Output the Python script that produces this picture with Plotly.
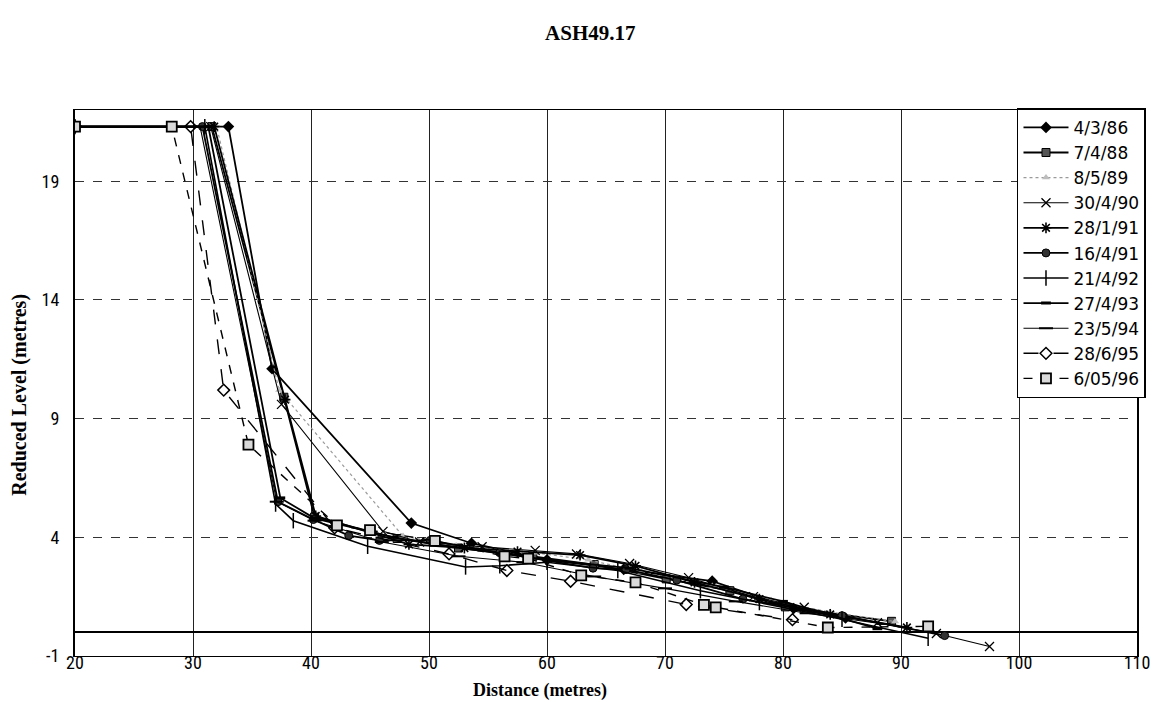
import plotly.graph_objects as go

# Beach profile survey ASH49.17: distance from benchmark vs reduced level
survey_dates = ["4/3/86", "7/4/88", "8/5/89", "30/4/90", "28/1/91", "16/4/91",
                "21/4/92", "27/4/93", "23/5/94", "28/6/95", "6/05/96"]

dist_860304 = [20, 33.0, 36.7, 48.5, 53.6, 60.0, 66.5, 74.0, 80.9, 85.3]
rl_860304 = [21.3, 21.3, 11.1, 4.6, 3.75, 3.05, 2.65, 2.15, 1.0, 0.6]

dist_880407 = [20, 31.6, 37.7, 40.3, 47.3, 52.5, 58.8, 64.0, 70.1, 75.5, 80.2, 89.2]
rl_880407 = [21.3, 21.3, 9.9, 4.85, 3.95, 3.55, 3.2, 2.85, 2.25, 1.75, 1.07, 0.46]

dist_890508 = [20, 32.0, 37.3, 47.8, 52.3, 59.0, 63.5, 68.0, 74.0, 79.0, 84.0, 89.5]
rl_890508 = [21.3, 21.3, 10.2, 4.05, 3.65, 3.35, 3.05, 2.55, 1.95, 1.35, 0.85, 0.45]

dist_900430 = [20, 31.5, 37.5, 46.1, 49.2, 54.5, 59.0, 62.5, 67.0, 72.0, 77.5, 81.8, 88.0, 93.0, 97.5]
rl_900430 = [21.3, 21.3, 9.6, 4.25, 3.8, 3.6, 3.45, 3.3, 2.9, 2.3, 1.5, 1.05, 0.4, -0.05, -0.6]

dist_910128 = [20, 31.8, 37.8, 40.4, 48.3, 53.0, 57.5, 62.8, 67.5, 72.5, 78.0, 84.0, 90.5]
rl_910128 = [21.3, 21.3, 9.8, 4.9, 3.7, 3.55, 3.4, 3.25, 2.8, 2.1, 1.4, 0.75, 0.2]

dist_910416 = [20, 30.8, 37.2, 40.2, 43.2, 45.8, 50.1, 56.0, 63.9, 66.7, 71.0, 76.6, 85.0, 93.7]
rl_910416 = [21.3, 21.3, 5.5, 4.75, 4.07, 3.87, 3.87, 3.35, 2.7, 2.64, 2.2, 1.4, 0.7, -0.14]

dist_920421 = [20, 31.0, 37.0, 38.5, 44.8, 53.1, 56.0, 60.0, 66.0, 73.0, 78.0, 85.0, 92.3]
rl_920421 = [21.3, 21.3, 5.4, 4.7, 3.62, 2.75, 2.8, 2.95, 2.6, 1.75, 1.25, 0.55, -0.25]

dist_930427 = [20, 31.3, 37.4, 40.3, 47.0, 52.0, 60.0, 67.0, 75.0, 80.0, 88.0]
rl_930427 = [21.3, 21.3, 5.66, 4.8, 4.0, 3.6, 3.05, 2.7, 1.9, 1.3, 0.15]

dist_940523 = [20, 30.6, 37.1, 40.3, 46.0, 52.5, 58.0, 64.0, 70.0, 76.0, 82.0, 88.5]
rl_940523 = [21.3, 21.3, 5.5, 4.7, 3.8, 3.2, 2.95, 2.35, 1.85, 1.3, 0.8, 0.35]

dist_950628 = [20, 29.8, 32.6, 42.0, 51.7, 56.6, 62.0, 71.8, 80.8]
rl_950628 = [21.3, 21.3, 10.2, 4.4, 3.3, 2.6, 2.15, 1.17, 0.53]

dist_960506 = [20, 28.2, 34.7, 42.2, 45.0, 50.5, 56.4, 58.4, 62.9, 67.5, 73.3, 74.3, 83.8, 92.3]
rl_960506 = [21.3, 21.3, 7.9, 4.5, 4.3, 3.85, 3.2, 3.1, 2.4, 2.1, 1.15, 1.05, 0.2, 0.25]

x_ticks = [20, 30, 40, 50, 60, 70, 80, 90, 100, 110]
y_ticks = [-1, 4, 9, 14, 19]

profiles = [
    (dist_860304, rl_860304),
    (dist_880407, rl_880407),
    (dist_890508, rl_890508),
    (dist_900430, rl_900430),
    (dist_910128, rl_910128),
    (dist_910416, rl_910416),
    (dist_920421, rl_920421),
    (dist_930427, rl_930427),
    (dist_940523, rl_940523),
    (dist_950628, rl_950628),
    (dist_960506, rl_960506),
]

# line / marker style per survey
styles = [
    dict(line=dict(color="black", width=1.8),
         marker=dict(symbol="diamond", size=9, color="black")),
    dict(line=dict(color="black", width=1.8),
         marker=dict(symbol="square", size=8, color="#555555",
                     line=dict(color="black", width=1))),
    dict(line=dict(color="#9a9a9a", width=1.2, dash="dot"),
         marker=dict(symbol="triangle-up", size=7, color="#bdbdbd")),
    dict(line=dict(color="black", width=1.1),
         marker=dict(symbol="x-thin-open", size=9, color="black",
                     line=dict(color="black", width=1.3))),
    dict(line=dict(color="black", width=1.8),
         marker=dict(symbol="asterisk-open", size=9, color="black",
                     line=dict(color="black", width=1.6))),
    dict(line=dict(color="black", width=1.8),
         marker=dict(symbol="circle", size=8, color="#333333",
                     line=dict(color="black", width=1))),
    dict(line=dict(color="black", width=1.6),
         marker=dict(symbol="line-ns-open", size=11, color="black",
                     line=dict(color="black", width=1.5))),
    dict(line=dict(color="black", width=1.8),
         marker=dict(symbol="line-ew-open", size=7, color="black",
                     line=dict(color="black", width=3))),
    dict(line=dict(color="black", width=1.1),
         marker=dict(symbol="line-ew-open", size=10, color="black",
                     line=dict(color="black", width=2))),
    dict(line=dict(color="black", width=1.4, dash="longdash"),
         marker=dict(symbol="diamond-open", size=9, color="black",
                     line=dict(color="black", width=1.5))),
    dict(line=dict(color="black", width=1.4, dash="dash"),
         marker=dict(symbol="square", size=10, color="#d9d9d9",
                     line=dict(color="black", width=1.8))),
]

fig = go.Figure()
for name, (xs, ys), st in zip(survey_dates, profiles, styles):
    fig.add_trace(go.Scatter(x=xs, y=ys, name=name, mode="lines+markers",
                             line=st["line"], marker=st["marker"]))

tick_font = dict(family="Liberation Sans Narrow, Roboto Condensed, DejaVu Sans Condensed, Liberation Sans",
                 size=18, color="black")
serif = "Liberation Serif, Times New Roman, serif"

fig.update_layout(
    width=1162, height=702,
    paper_bgcolor="white", plot_bgcolor="white",
    margin=dict(l=75, r=22, t=110, b=46),
    title=dict(text="<b>ASH49.17</b>", x=0.508, xanchor="center", y=0.953, yanchor="middle",
               font=dict(size=21, family=serif, color="black")),
    showlegend=True,
    legend=dict(x=0.887, y=1.003, xanchor="left", yanchor="top",
                bgcolor="white", bordercolor="black", borderwidth=1.5,
                font=dict(family="DejaVu Sans", size=17, color="black"),
                itemwidth=45, tracegroupgap=0),
    annotations=[
        dict(text="<b>Distance (metres)</b>", xref="paper", yref="paper",
             x=0.4376, y=-0.0623, xanchor="center", yanchor="middle", showarrow=False,
             font=dict(size=18, family=serif, color="black")),
        dict(text="<b>Reduced Level (metres)</b>", xref="paper", yref="paper",
             x=-0.053, y=0.478, xanchor="center", yanchor="middle", showarrow=False,
             textangle=-90, font=dict(size=20, family=serif, color="black")),
    ],
)

fig.update_xaxes(range=[20, 110], tickvals=x_ticks, ticktext=[str(v) for v in x_ticks],
                 showgrid=True, gridcolor="#222222", gridwidth=1,
                 showline=True, linecolor="black", linewidth=1, mirror=True,
                 ticks="", tickfont=tick_font, zeroline=False, ticklabelstandoff=-10)
fig.update_yaxes(range=[-1, 22], tickvals=y_ticks, ticktext=[str(v) for v in y_ticks],
                 showgrid=True, gridcolor="#333333", gridwidth=1, griddash="dash",
                 showline=True, linecolor="black", linewidth=2, mirror=True,
                 zeroline=True, zerolinecolor="black", zerolinewidth=1.5,
                 ticks="", tickfont=tick_font, ticklabelstandoff=10)

fig.write_html("out.html")
